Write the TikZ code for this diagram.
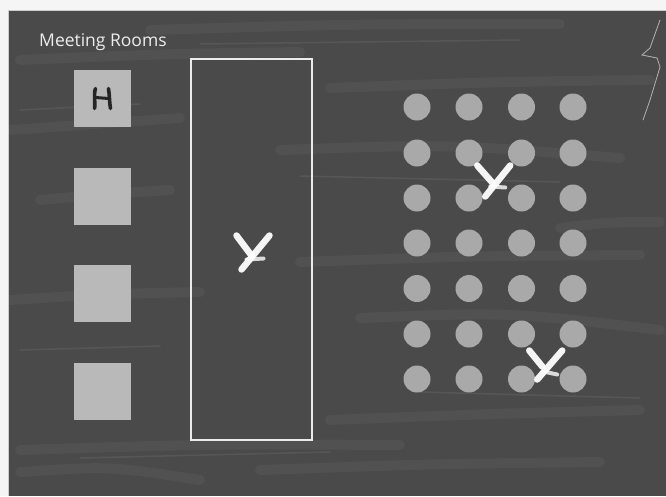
\documentclass[tikz,border=0pt]{standalone}
\usepackage{fontspec}
\setmainfont{Open Sans}
\usepackage[dvipsnames]{xcolor}
\usetikzlibrary{calc}

\definecolor{ardoise}{HTML}{4A4A4A}
\definecolor{salle}{HTML}{B9B9B9}
\definecolor{place}{HTML}{A9A9A9}

\begin{document}
\begin{tikzpicture}[x=1pt,y=-1pt]
\useasboundingbox (0,0) rectangle (666,496);
%tableau noir
\fill [gray!8] (0,0) rectangle (666,496);
\fill [ardoise] (8,10) rectangle (666,496);
\draw [gray!40, line width=1pt] (8,496) -- (8,10) -- (666,10);

%traces de craie
\foreach \ya/\yb/\xa/\xb in {30/24/150/560, 60/52/20/300, 88/80/330/650, 130/118/10/180, 150/158/280/620,
  200/190/40/170, 262/255/300/640, 300/292/10/200, 318/330/360/660, 420/410/330/640, 450/445/20/400,
  470/462/260/600, 472/480/20/200, 228/222/560/660}
  \draw [white, opacity=0.04, line width=10pt, line cap=round] (\xa,\ya) .. controls ({(\xa+\xb)/2},{\ya-6}) .. (\xb,\yb);
\foreach \ya/\yb/\xa/\xb in {44/40/200/520, 110/104/20/140, 176/182/300/560, 350/346/20/160, 392/398/420/640, 458/452/80/330}
  \draw [white, opacity=0.07, line width=1.5pt, line cap=round] (\xa,\ya) -- (\xb,\yb);

%fissure
\draw [gray!60, line width=0.8pt, line cap=round] (660,20) -- (650,48) -- (642,55) -- (657,58)
  -- (660,67) -- (650,100) -- (643,120);

%titre
\node [anchor=base west, text=gray!15, font=\fontsize{17.5}{19}\selectfont, inner sep=0pt]
  (titre) at (39,46) {Meeting Rooms};

%salles
\tikzset{salle/.style={fill=salle, minimum size=57pt, inner sep=0pt},
  place/.style={circle, fill=place, minimum size=27pt, inner sep=0pt},
  craie/.style={white, line width=6.5pt, line cap=round, opacity=0.95},
  table/.style={draw=white!92!black, line width=2pt}}
\foreach \i/\y in {1/98.5, 2/196.5, 3/293.5, 4/391.5}
  \node [salle] (salle\i) at (102.5,\y) {};

%lettre H
\draw [black!85, line width=3.6pt, line cap=round]
  (salle1.center) ++(-7,-10) .. controls ++(-2,5) and ++(1,-4) .. ++(-1,20);
\draw [black!85, line width=3.6pt, line cap=round]
  (salle1.center) ++(6,-10) .. controls ++(1,6) and ++(-1,-5) .. ++(2,20);
\draw [black!85, line width=3pt, line cap=round]
  (salle1.center) ++(-7,-1) -- ++(13,1);

%grande table
\node [table, minimum width=121pt, minimum height=381pt, inner sep=0pt] (table) at (251.5,249.5) {};

%places
\foreach \i/\x in {1/417, 2/469, 3/521.5, 4/573}
  \foreach \j/\y in {1/107, 2/153, 3/198, 4/243, 5/288.5, 6/334, 7/379}
    \node [place] (p-\i-\j) at (\x,\y) {};

%croix
\coordinate (croixA) at (table.center);
\draw [craie] (croixA) ++(-15,-14) -- ++(15,20);
\draw [craie] (croixA) ++(18,-14) -- ++(-28,34);
\draw [craie, line width=4pt, opacity=0.8] (croixA) ++(-5,10) -- ++(17,-1);

\coordinate (croixB) at ($(p-2-3)!0.5!(p-3-2)$);
\draw [craie] (croixB) ++(-18,-10) -- ++(15,17);
\draw [craie] (croixB) ++(15,-10) -- ++(-25,31);
\draw [craie, line width=4pt, opacity=0.8] (croixB) ++(-5,11) -- ++(15,1);

\coordinate (croixC) at ($(p-3-7)!0.5!(p-4-6)$);
\draw [craie] (croixC) ++(-18,-6) -- ++(13,16);
\draw [craie] (croixC) ++(15,-6) -- ++(-25,29);
\draw [craie, line width=4pt, opacity=0.8] (croixC) ++(-4,15) -- ++(14,3);

\end{tikzpicture}
\end{document}
